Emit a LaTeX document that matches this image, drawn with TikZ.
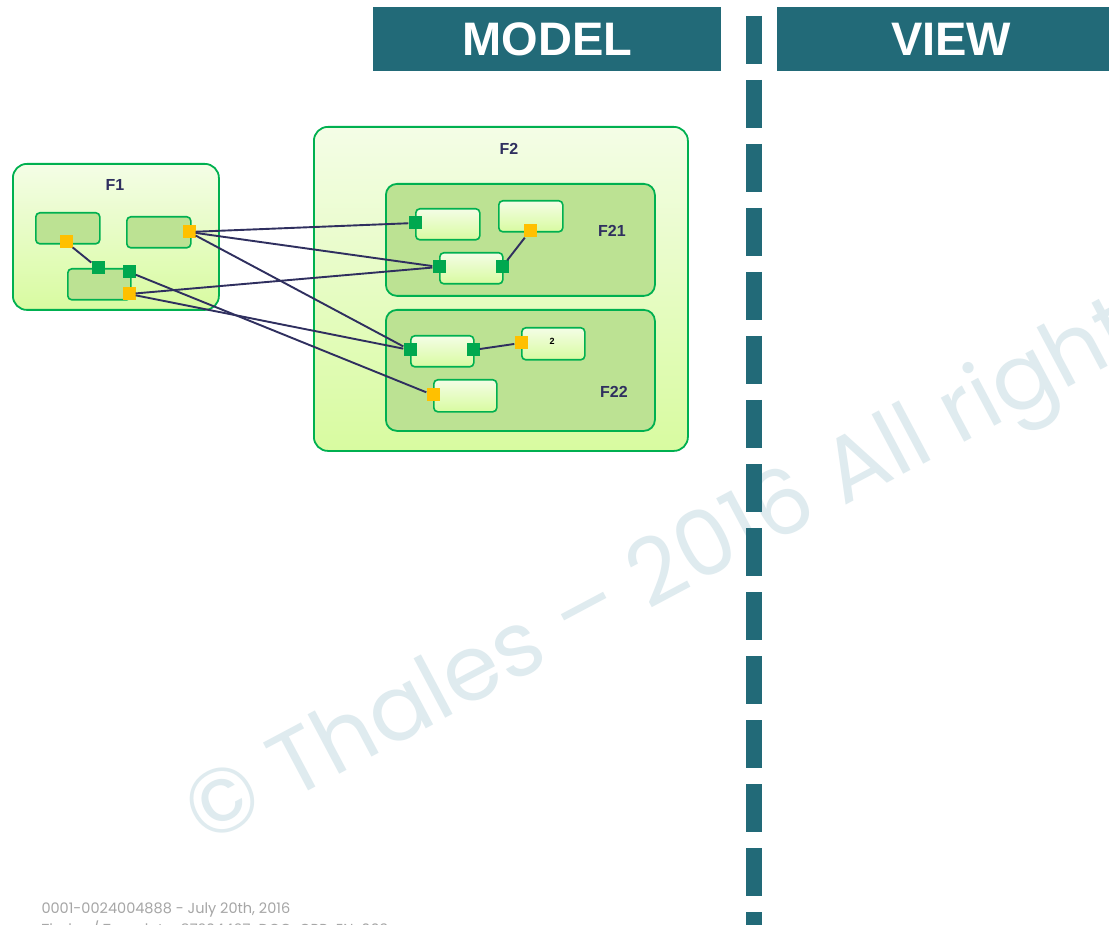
\documentclass[tikz,border=0pt]{standalone}
\usepackage{fontspec}
\setmainfont{Liberation Sans}
\newfontfamily\wmfont{Poppins}
\definecolor{hdr}{HTML}{226A78}
\definecolor{grn}{HTML}{00B050}
\definecolor{portg}{HTML}{00A84F}
\definecolor{porty}{HTML}{FFC000}
\definecolor{innerf}{HTML}{BCE293}
\definecolor{gtop}{HTML}{F4FDE6}
\definecolor{gbot}{HTML}{D8FBA0}
\definecolor{navy}{HTML}{2F2F5F}
\definecolor{wmc}{HTML}{DFEBEF}
\definecolor{footc}{HTML}{A6A6A6}
\tikzset{
  outerbox/.style={draw=grn, line width=1.8pt, rounded corners=14pt, top color=gtop, bottom color=gbot, inner sep=0pt, anchor=north west},
  subbox/.style={draw=grn, line width=1.8pt, rounded corners=11pt, fill=innerf, inner sep=0pt, anchor=north west},
  darkbox/.style={draw=grn, line width=1.6pt, rounded corners=4pt, fill=innerf, inner sep=0pt, anchor=north west, minimum width=64pt, minimum height=31pt},
  lightbox/.style={draw=grn, line width=1.6pt, rounded corners=4pt, top color=gtop, bottom color=gbot, inner sep=0pt, anchor=north west, minimum width=64pt, minimum height=31pt},
  gport/.style={fill=portg, minimum size=13pt, inner sep=0pt},
  yport/.style={fill=porty, minimum size=13pt, inner sep=0pt},
  link/.style={draw=navy, line width=1.9pt},
  lbl/.style={text=navy, font=\bfseries\fontsize{16}{16}\selectfont},
  hdrbox/.style={fill=hdr, anchor=north west, minimum width=348pt, minimum height=64pt, inner sep=0pt, text=white, font=\bfseries\fontsize{47}{47}\selectfont},
  foottext/.style={anchor=base west, text=footc, font=\wmfont\fontsize{14.5}{14.5}\selectfont}
}
\begin{document}
\begin{tikzpicture}[x=1pt, y=-1pt]
\useasboundingbox (0,0) rectangle (1109,925);
\fill[white] (0,0) rectangle (1109,925);
% watermark
\begin{scope}
\clip (0,0) rectangle (1109,925);
\node[rotate=28, anchor=base west, inner sep=0pt, text=wmc, font=\wmfont\fontsize{91}{91}\selectfont] (wm) at (205,846) {© Thales – 2016 All rights reserved};
% headers
\node[hdrbox] (model) at (373,7) {MODEL};
\node[hdrbox] (view) at (777,7) {VIEW};
% dashed separator
\coordinate (dtop) at (754,16);
\coordinate (dbot) at (754,940);
\draw[hdr, line width=16pt, dash pattern=on 48pt off 16pt] (dtop) -- (dbot);
\end{scope}

% F1
\node[outerbox, minimum width=206pt, minimum height=146pt] (F1) at (12,163) {};
\node[lbl] (F1l) at (115,185) {F1};
\node[darkbox] (a) at (35,212) {};
\node[darkbox] (b) at (126,216) {};
\node[darkbox, minimum width=63pt] (c) at (67,268) {};

% F2
\node[outerbox, minimum width=374pt, minimum height=324pt] (F2) at (313,126) {};
\node[lbl] (F2l) at (509,149) {F2};
\node[subbox, minimum width=269pt, minimum height=112pt] (F21) at (385,183) {};
\node[lbl] (F21l) at (612,231) {F21};
\node[subbox, minimum width=269pt, minimum height=121pt] (F22) at (385,309) {};
\node[lbl] (F22l) at (614,392) {F22};

\node[lightbox] (d1) at (415,208) {};
\node[lightbox] (d2) at (498,200) {};
\node[lightbox, minimum width=63pt] (d3) at (439,252) {};
\node[lightbox, minimum width=63pt] (e1) at (410,335) {};
\node[lightbox, minimum width=63pt, minimum height=32pt] (e2) at (521,327) {};
\node[font=\bfseries\fontsize{9}{9}\selectfont] (e2t) at (552,341) {2};
\node[lightbox, minimum width=63pt, minimum height=32pt] (e3) at (433,379) {};

% ports
\node[yport] (pa) at (66,242) {};
\node[yport] (pb) at (189,232) {};
\node[gport] (pc1) at (98,268) {};
\node[gport] (pc2) at (129,272) {};
\node[yport] (pc3) at (129,294) {};
\node[gport] (pd1) at (415,223) {};
\node[yport] (pd2) at (530,231) {};
\node[gport] (pd3a) at (439,267) {};
\node[gport] (pd3b) at (502,267) {};
\node[gport] (pe1a) at (410,350) {};
\node[gport] (pe1b) at (473,350) {};
\node[yport] (pe2) at (521,343) {};
\node[yport] (pe3) at (433,395) {};

% links
\draw[link] (pa) -- (pc1);
\draw[link] (pb) -- (pd1);
\draw[link] (pb) -- (pd3a);
\draw[link] (pb) -- (pe1a);
\draw[link] (pc2) -- (pe3);
\draw[link] (pc3) -- (pd3a);
\draw[link] (pc3) -- (pe1a);
\draw[link] (pd3b) -- (pd2);
\draw[link] (pe1b) -- (pe2);

% footer
\begin{scope}
\clip (0,0) rectangle (1109,925);
\node[foottext] (foot1) at (38,913) {0001-0024004888 - July 20th, 2016};
\node[foottext] (foot2) at (38,934) {Thales / Template: 87204467-DOC-GRP-EN-003};
\end{scope}
\end{tikzpicture}
\end{document}
